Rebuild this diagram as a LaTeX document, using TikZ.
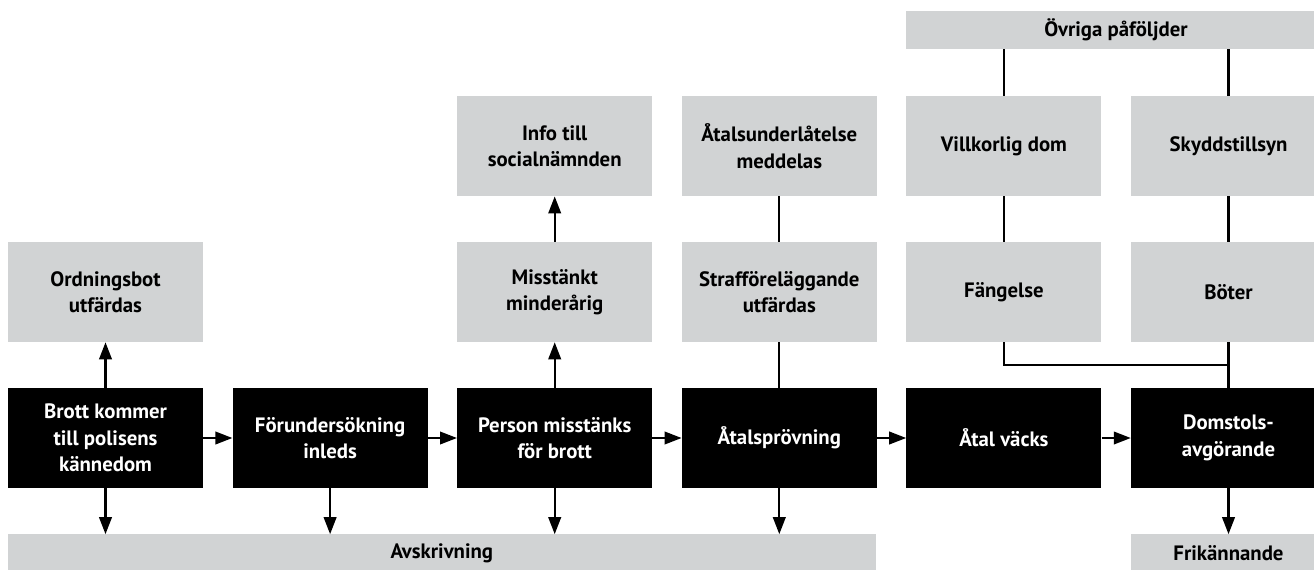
\documentclass[tikz,border=0pt]{standalone}
\usepackage{fontspec}
\setsansfont{PT Sans}
\usepackage{xcolor}
\usepackage{tikz}
\usetikzlibrary{positioning,calc,arrows.meta}
\definecolor{boxgray}{RGB}{209,211,212}

\begin{document}
\begin{tikzpicture}[font=\sffamily\bfseries\fontsize{20.8}{26.5}\selectfont,
            stage/.style={minimum width=195pt, minimum height=100pt, align=center, inner sep=0pt},
            lightbox/.style={stage, fill=boxgray, text=black},
            darkbox/.style={stage, fill=black, text=white},
            barbox/.style={fill=boxgray, inner sep=0pt, minimum height=38pt},
            node distance=45.5pt and 29.2pt,
            joinline/.style={line width=2.2pt},
            flowarrow/.style={joinline, -{Triangle[length=17pt,width=12.5pt]}}]

            \path[use as bounding box, clip] (0,0) rectangle (1314pt,-570pt);

            \node[darkbox] (brott) at (105.5pt,-438pt) {Brott kommer\\till polisens\\kännedom};
            \node[darkbox, right=of brott] (forund) {Förundersökning\\inleds};
            \node[darkbox, right=of forund] (person) {Person misstänks\\för brott};
            \node[darkbox, right=of person] (provning) {Åtalsprövning};
            \node[darkbox, right=of provning] (vacks) {Åtal väcks};
            \node[darkbox, right=of vacks] (domstol) {Domstols-\\avgörande};

            \node[lightbox, above=of brott] (ordbot) {Ordningsbot\\utfärdas};
            \node[lightbox, above=of person] (minder) {Misstänkt\\minderårig};
            \node[lightbox, above=of minder] (socnamnd) {Info till\\socialnämnden};
            \node[lightbox, above=of provning] (straff) {Strafföreläggande\\utfärdas};
            \node[lightbox, above=of straff] (underlat) {Åtalsunderlåtelse\\meddelas};
            \node[lightbox, above=of vacks] (fangelse) {Fängelse};
            \node[lightbox, above=of fangelse] (villkor) {Villkorlig dom};
            \node[lightbox, above=of domstol] (boter) {Böter};
            \node[lightbox, above=of boter] (skydd) {Skyddstillsyn};

            \node[barbox, minimum width=419.2pt, above=47pt of villkor.north west, anchor=south west] (ovriga) {Övriga påföljder};
            \node[barbox, minimum width=867.6pt, below=46pt of brott.south west, anchor=north west] (avskr) {Avskrivning};
            \node[barbox, minimum width=195pt, below=46pt of domstol] (frikann) {Frikännande};

            \draw[flowarrow] (brott) -- (forund);
            \draw[flowarrow] (forund) -- (person);
            \draw[flowarrow] (person) -- (provning);
            \draw[flowarrow] (provning) -- (vacks);
            \draw[flowarrow] (vacks) -- (domstol);
            \foreach \n in {brott,forund,person,provning}
                \draw[flowarrow] (\n) -- (\n |- avskr.north);

            \draw[flowarrow] (brott) -- (ordbot);
            \draw[flowarrow] (person) -- (minder);
            \draw[flowarrow] (minder) -- (socnamnd);
            \draw[flowarrow] (domstol) -- (frikann);

            \draw[joinline] (provning) -- (straff);
            \draw[joinline] (straff) -- (underlat);
            \draw[joinline] (villkor |- ovriga.south) -- (villkor);
            \draw[joinline] (skydd |- ovriga.south) -- (skydd);
            \draw[joinline] (villkor) -- (fangelse);
            \draw[joinline] (skydd) -- (boter);
            \draw[joinline] (boter) -- (domstol);
            \coordinate (merge) at ($(boter.south)!0.5!(domstol.north)$);
            \draw[joinline] (fangelse) |- (merge);
        \end{tikzpicture}
\end{document}
